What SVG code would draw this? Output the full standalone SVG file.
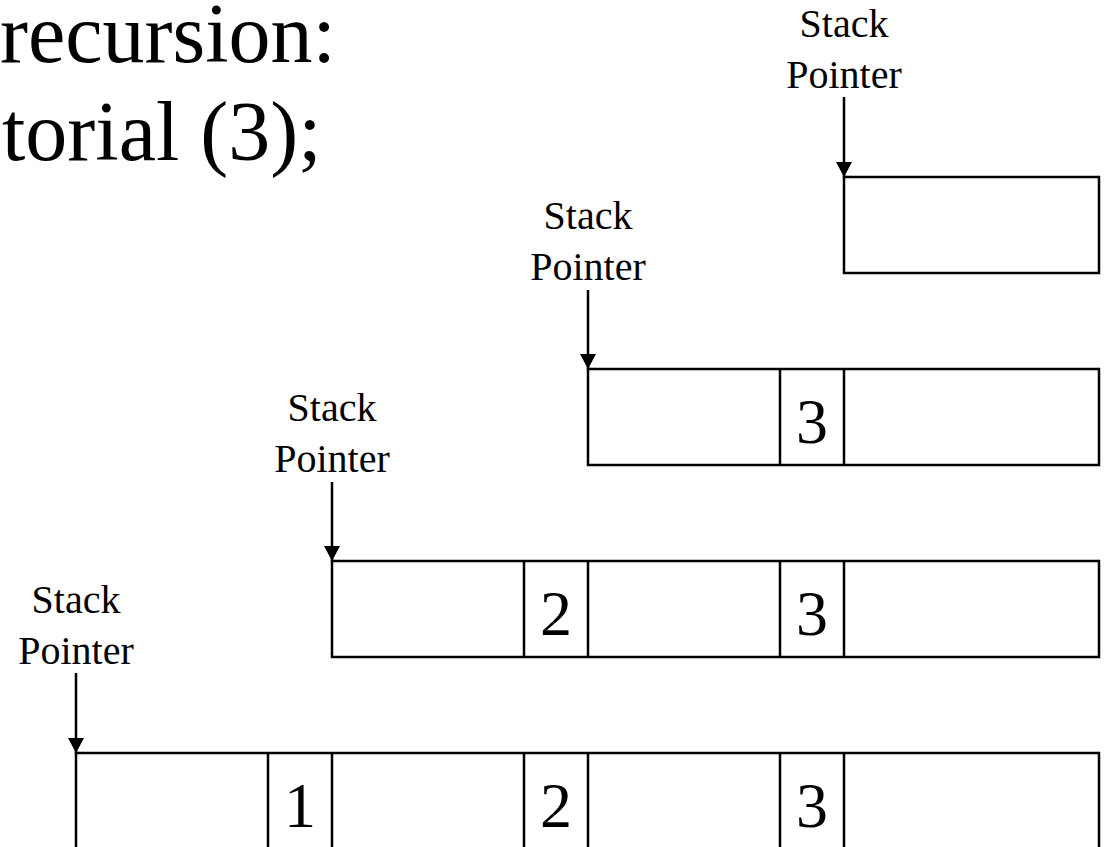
<svg xmlns="http://www.w3.org/2000/svg" width="1107" height="847" viewBox="0 0 1107 847">
<style>
.t{font-family:"Liberation Serif","Times New Roman",serif;fill:#000}
.title{font-size:84px}
.lbl{font-size:40px;text-anchor:middle}
.num{font-size:64px;text-anchor:middle}
.box{fill:#fff;stroke:#000;stroke-width:2.5}
.div{stroke:#000;stroke-width:2.5}
.arr{stroke:#000;stroke-width:2.5;fill:none;marker-end:url(#ah)}
</style>
<defs>
<marker id="ah" markerUnits="userSpaceOnUse" markerWidth="16" markerHeight="16" refX="15" refY="8" orient="auto" viewBox="0 0 16 16">
<path d="M0,0 L15,8 L0,16 Z" fill="#000"/>
</marker>
</defs>
<rect width="1107" height="847" fill="#fff"/>
<g id="title">
<text class="t title" x="0" y="62">recursion:</text>
<text class="t title" x="2" y="160">torial (3);</text>
</g>
<g id="frame1">
<rect class="box" x="844" y="177" width="255" height="96"/>
<text class="t lbl" x="844" y="37">Stack</text>
<text class="t lbl" x="844" y="88">Pointer</text>
</g>
<g id="frame2">
<rect class="box" x="588" y="369" width="511" height="96"/>
<line class="div" x1="780" y1="369" x2="780" y2="465"/>
<line class="div" x1="844" y1="369" x2="844" y2="465"/>
<text class="t num" x="812" y="443">3</text>
<text class="t lbl" x="588" y="229">Stack</text>
<text class="t lbl" x="588" y="280">Pointer</text>
</g>
<g id="frame3">
<rect class="box" x="332" y="561" width="767" height="96"/>
<line class="div" x1="524" y1="561" x2="524" y2="657"/>
<line class="div" x1="588" y1="561" x2="588" y2="657"/>
<line class="div" x1="780" y1="561" x2="780" y2="657"/>
<line class="div" x1="844" y1="561" x2="844" y2="657"/>
<text class="t num" x="556" y="635">2</text>
<text class="t num" x="812" y="635">3</text>
<text class="t lbl" x="332" y="421">Stack</text>
<text class="t lbl" x="332" y="472">Pointer</text>
</g>
<g id="frame4">
<rect class="box" x="76" y="753" width="1023" height="96"/>
<line class="div" x1="268" y1="753" x2="268" y2="849"/>
<line class="div" x1="332" y1="753" x2="332" y2="849"/>
<line class="div" x1="524" y1="753" x2="524" y2="849"/>
<line class="div" x1="588" y1="753" x2="588" y2="849"/>
<line class="div" x1="780" y1="753" x2="780" y2="849"/>
<line class="div" x1="844" y1="753" x2="844" y2="849"/>
<text class="t num" x="300" y="827">1</text>
<text class="t num" x="556" y="827">2</text>
<text class="t num" x="812" y="827">3</text>
<text class="t lbl" x="76" y="613">Stack</text>
<text class="t lbl" x="76" y="664">Pointer</text>
</g>
<g id="connectors">
<line class="arr" x1="844" y1="97" x2="844" y2="177"/>
<line class="arr" x1="588" y1="290" x2="588" y2="369"/>
<line class="arr" x1="332" y1="482" x2="332" y2="561"/>
<line class="arr" x1="76" y1="673" x2="76" y2="753"/>
</g>
</svg>
